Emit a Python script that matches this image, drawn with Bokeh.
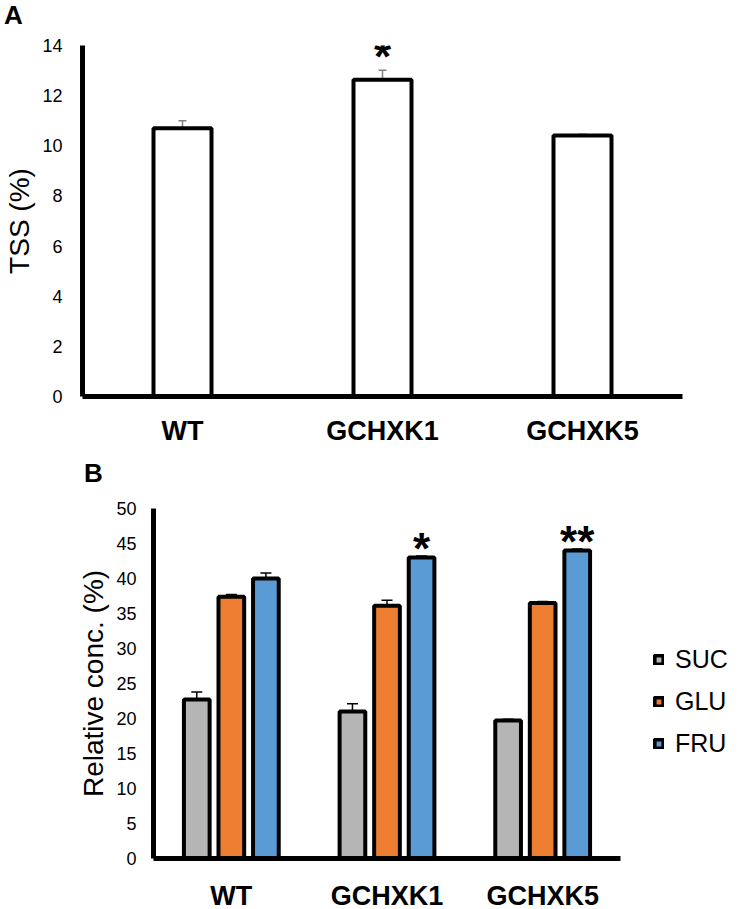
from bokeh.plotting import figure
from bokeh.models import (FactorRange, Range1d, Whisker, TeeHead, ColumnDataSource,
                          Legend, LegendItem, Div)
from bokeh.transform import dodge
from bokeh.core.properties import value
from bokeh.embed import file_html
from bokeh.resources import INLINE

FONT = "Liberation Sans"

# ---- Panel A data ----
cats = ["WT", "GCHXK1", "GCHXK5"]
tss = [10.7, 12.63, 10.41]
tss_err = [0.3, 0.38, 0.05]
tss_sig = ["", "*", ""]
a_ticks = [0, 2, 4, 6, 8, 10, 12, 14]

# ---- Panel B data ----
suc = [22.7, 21.0, 19.7]
suc_err = [1.1, 1.1, 0.2]
glu = [37.4, 36.1, 36.5]
glu_err = [0.3, 0.8, 0.2]
fru = [40.0, 43.0, 44.0]
fru_err = [0.8, 0.2, 0.2]
fru_sig = ["", "*", "**"]
b_ticks = [0, 5, 10, 15, 20, 25, 30, 35, 40, 45, 50]

GRAY = "#b5b5b5"
ORANGE = "#ed7d31"
BLUE = "#5b9bd5"


def style_axes(p, xfs, yfs, ylab, ylabfs, ystand, ylabstand, xstand):
    p.grid.visible = False
    p.outline_line_color = None
    for ax in (p.xaxis[0], p.yaxis[0]):
        ax.axis_line_width = 5
        ax.axis_line_color = "black"
        ax.major_tick_line_color = None
        ax.minor_tick_line_color = None
        ax.major_label_text_font = FONT
        ax.major_label_text_color = "black"
    p.xaxis.major_label_text_font_size = xfs
    p.xaxis.major_label_text_font_style = "bold"
    p.xaxis.major_label_standoff = xstand
    p.yaxis.major_label_text_font_size = yfs
    p.yaxis.major_label_standoff = ystand
    p.yaxis.axis_label = ylab
    p.yaxis.axis_label_text_font = FONT
    p.yaxis.axis_label_text_font_size = ylabfs
    p.yaxis.axis_label_text_font_style = "normal"
    p.yaxis.axis_label_text_color = "black"
    p.yaxis.axis_label_standoff = ylabstand


def panel_label(text, left):
    return Div(text=text, width=120, height=30, margin=(0, 0, 0, left),
               styles={"font-family": FONT, "font-weight": "bold", "font-size": "26px",
                       "line-height": "30px", "color": "black"})


# ================= Panel A =================
srcA = ColumnDataSource(dict(
    cat=cats, tss=tss,
    upper=[v + e for v, e in zip(tss, tss_err)],
    lower=[v - e for v, e in zip(tss, tss_err)],
    sig=tss_sig,
))

pA = figure(x_range=FactorRange(*cats), y_range=Range1d(0, 14),
            frame_width=600, frame_height=351,
            min_border_left=82, min_border_top=15, min_border_bottom=62,
            min_border_right=30,
            output_backend="svg", toolbar_location=None)
pA.vbar(x="cat", top="tss", width=0.29, source=srcA,
        fill_color="white", line_color="black", line_width=4)
pA.add_layout(Whisker(base="cat", upper="upper", lower="lower", source=srcA,
                      line_color="#808080", line_width=1.5,
                      upper_head=TeeHead(size=8, line_color="#808080", line_width=1.5),
                      lower_head=TeeHead(size=8, line_color="#808080", line_width=1.5)))
pA.text(x="cat", y="upper", text="sig", source=srcA, text_align="center",
        text_baseline="bottom", text_font=value(FONT), text_font_style="bold",
        text_font_size="44px", y_offset=11, text_color="black")
pA.yaxis.ticker = a_ticks
style_axes(pA, "27px", "18px", "TSS (%)", "28px", 14, 4, 13)

# ================= Panel B =================
srcB = ColumnDataSource(dict(
    cat=cats, suc=suc, glu=glu, fru=fru,
    suc_up=[v + e for v, e in zip(suc, suc_err)], suc_lo=[v - e for v, e in zip(suc, suc_err)],
    glu_up=[v + e for v, e in zip(glu, glu_err)], glu_lo=[v - e for v, e in zip(glu, glu_err)],
    fru_up=[v + e for v, e in zip(fru, fru_err)], fru_lo=[v - e for v, e in zip(fru, fru_err)],
    sig=fru_sig,
))

pB = figure(x_range=FactorRange(*cats), y_range=Range1d(0, 50),
            frame_width=467, frame_height=350,
            min_border_left=153, min_border_top=20, min_border_bottom=43,
            min_border_right=110,
            output_backend="svg", toolbar_location=None)

OFF = 0.222
BW = 0.165
renderers = []
for key, off, col in (("suc", -OFF, GRAY), ("glu", 0.0, ORANGE), ("fru", OFF, BLUE)):
    r = pB.vbar(x=dodge("cat", off, range=pB.x_range), top=key, width=BW, source=srcB,
                fill_color=col, line_color="black", line_width=4)
    renderers.append(r)
    pB.add_layout(Whisker(base=dodge("cat", off, range=pB.x_range),
                          upper=key + "_up", lower=key + "_lo", source=srcB,
                          line_color="black", line_width=1.5,
                          upper_head=TeeHead(size=11, line_color="black", line_width=1.5),
                          lower_head=TeeHead(size=11, line_color="black", line_width=1.5)))

pB.text(x=dodge("cat", OFF, range=pB.x_range), y="fru_up", text="sig", source=srcB,
        text_align="center", text_baseline="bottom", text_font=value(FONT),
        text_font_style="bold", text_font_size="44px", y_offset=17, text_color="black")

pB.yaxis.ticker = b_ticks
style_axes(pB, "27px", "18px", "Relative conc. (%)", "28px", 11, 4, 16)

legend = Legend(items=[LegendItem(label="SUC", renderers=[renderers[0]]),
                       LegendItem(label="GLU", renderers=[renderers[1]]),
                       LegendItem(label="FRU", renderers=[renderers[2]])],
                location=(33, 100), border_line_color=None, background_fill_alpha=0,
                glyph_width=11, glyph_height=11, label_standoff=11, label_height=30,
                spacing=12, padding=0, margin=0,
                label_text_font=FONT, label_text_font_size="25px", label_text_color="black")
pB.add_layout(legend, "right")

divA = panel_label("A", 4)
divB = panel_label("B", 84)

open("out.html", "w").write(file_html([divA, pA, divB, pB], INLINE))
